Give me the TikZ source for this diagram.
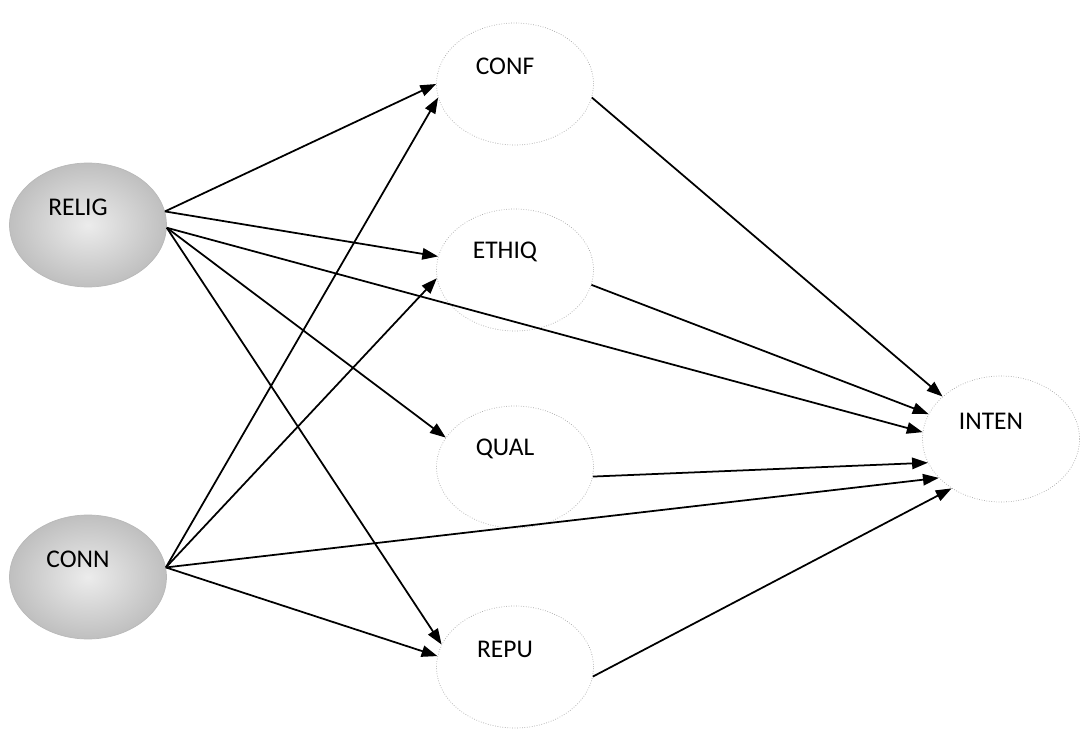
\documentclass[tikz,border=0pt]{standalone}
\usepackage{fontspec}
\setmainfont{Carlito}
\usepackage{tikz}
\usetikzlibrary{shapes.geometric, arrows.meta}

\begin{document}
\begin{tikzpicture}[x=0.02cm, y=-0.02cm,
    cause/.style={ellipse, draw=gray!55, inner color=gray!15, outer color=gray!50, minimum width=3.14cm, minimum height=2.48cm},
    med/.style={ellipse, draw=gray!70, densely dotted, fill=white, minimum width=3.14cm, minimum height=2.44cm},
    tag/.style={font=\fontsize{14.5}{17}\selectfont, xshift=-0.2cm, yshift=0.36cm},
    arr/.style={-{Triangle[length=9pt, width=6.5pt]}, line width=1pt}]
    \useasboundingbox (0,0) rectangle (1085,729);

    \node[cause, label={[tag]center:RELIG}] (relig) at (88,225) {};
    \node[cause, label={[tag]center:CONN}] (conn) at (88,577) {};
    \node[med, label={[tag]center:CONF}] (conf) at (515,84) {};
    \node[med, label={[tag]center:ETHIQ}] (ethiq) at (515,270) {};
    \node[med, label={[tag]center:QUAL}] (qual) at (515,467) {};
    \node[med, label={[tag]center:REPU}] (repu) at (515,667) {};
    \node[med, minimum height=2.52cm, label={[tag]center:INTEN}] (inten) at (1001,439) {};

    \draw[arr] (relig.10) -- (conf.west);
    \draw[arr] (conn.7) -- (conf.190);
    \draw[arr] (relig.10) -- (ethiq.170);
    \draw[arr] (conn.7) -- (ethiq.186);
    \draw[arr] (relig.358) -- (qual.157);
    \draw[arr] (relig.358) -- (repu.163);
    \draw[arr] (conn.7) -- (repu.172);
    \draw[arr] (relig.358) -- (inten.175);

    \draw[arr] (conf.350) -- (inten.144);
    \draw[arr] (ethiq.349) -- (inten.161);
    \draw[arr] (qual.353) -- (inten.198);
    \draw[arr] (conn.7) -- (inten.212);
    \draw[arr] (repu.353) -- (inten.225);
\end{tikzpicture}
\end{document}
